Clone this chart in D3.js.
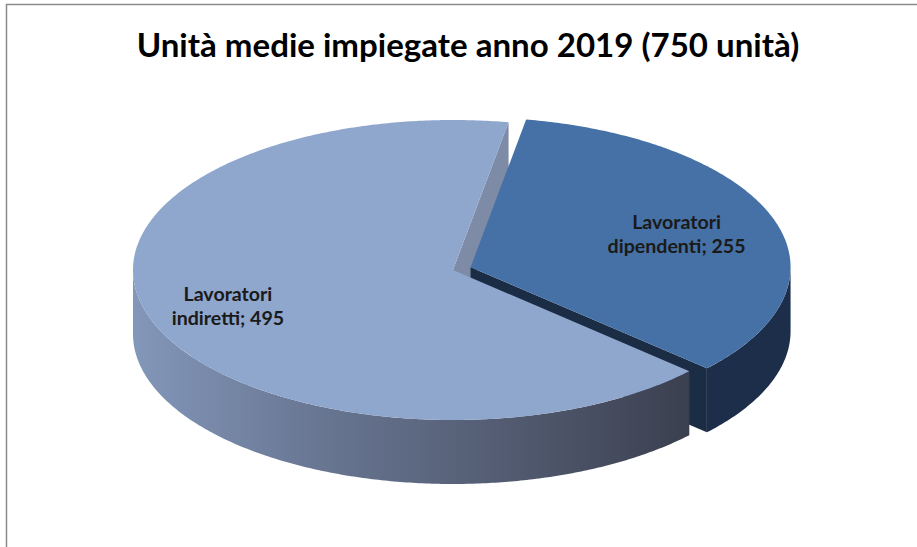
<!DOCTYPE html>
<html>
<head>
<meta charset="utf-8">
<script src="https://cdn.jsdelivr.net/npm/d3@7"></script>
<style>
  html, body { margin: 0; padding: 0; background: #ffffff; }
  svg { display: block; }
</style>
</head>
<body>
<svg id="chart" width="917" height="547"></svg>
<script>
// ---- data ----
const title = "Unità medie impiegate anno 2019 (750 unità)";
const categories = ["Lavoratori dipendenti", "Lavoratori indiretti"];
const values = [255, 495];

// ---- styles / layout ----
const topColors = ["#4671a6", "#8fa6cd"];
const faceColors = ["#1b2c45", "#7d8ba7"];
const wallColors = ["#1c2e49", null]; // second wall uses a gradient
const explode = [0.058, 0];
const labelR = [0.68, 0.743];

const W = 917, H = 547;
const cx = 453, cy = 270, rx = 320, ry = 150, depth = 64;
const startAngle = 10 * Math.PI / 180;
const fontFamily = "Lato, 'Open Sans', sans-serif";

const svg = d3.select("#chart");

// frame lines
svg.append("line").attr("x1", 6).attr("x2", W).attr("y1", 4.5).attr("y2", 4.5)
  .attr("stroke", "#8a8a8a").attr("stroke-width", 1.5);
svg.append("line").attr("x1", 6.5).attr("x2", 6.5).attr("y1", 4).attr("y2", H)
  .attr("stroke", "#8a8a8a").attr("stroke-width", 1.5);

// gradient for the front wall of the large slice
const defs = svg.append("defs");
const grad = defs.append("linearGradient").attr("id", "wallGrad")
  .attr("x1", 0).attr("x2", 1).attr("y1", 0).attr("y2", 0);
[[0, "#8397ba"], [0.3, "#6b7996"], [0.66, "#535c72"], [1, "#3b404f"]].forEach(([o, c]) =>
  grad.append("stop").attr("offset", o).attr("stop-color", c));

const pie = d3.pie().sort(null).value(d => d)
  .startAngle(startAngle).endAngle(startAngle + 2 * Math.PI);
const arcs = pie(values).map((a, i) => {
  const mid = (a.startAngle + a.endAngle) / 2;
  return {
    ...a, i, mid,
    off: [explode[i] * rx * Math.sin(mid), -explode[i] * ry * Math.cos(mid)]
  };
});

// projected point on the tilted disc
function pt(d, ang, r, z) {
  return [cx + d.off[0] + r * rx * Math.sin(ang), cy + d.off[1] - r * ry * Math.cos(ang) + z];
}
const line = d3.line();
function rim(d, a0, a1, z) {
  const n = Math.max(2, Math.ceil(Math.abs(a1 - a0) / 0.01));
  return d3.range(n + 1).map(k => pt(d, a0 + (a1 - a0) * k / n, 1, z));
}

// side pieces: outer walls and cut faces that face the viewer
const sides = [];
arcs.forEach(d => {
  const lo = Math.max(d.startAngle, Math.PI / 2), hi = Math.min(d.endAngle, 1.5 * Math.PI);
  if (hi > lo) {
    const pts = rim(d, lo, hi, 0).concat(rim(d, hi, lo, depth));
    const m = pt(d, (lo + hi) / 2, 1, depth / 2);
    sides.push({ d, kind: "wall", pts, key: m[1] });
  }
  [[d.startAngle, Math.sin(d.startAngle) < 0], [d.endAngle, Math.sin(d.endAngle) > 0]].forEach(([a, vis]) => {
    if (!vis) return;
    const pts = [pt(d, a, 0, 0), pt(d, a, 1, 0), pt(d, a, 1, depth), pt(d, a, 0, depth)];
    const m = pt(d, a, 0.5, depth / 2);
    sides.push({ d, kind: "face", pts, key: m[1] });
  });
});
sides.sort((a, b) => a.key - b.key);

const g = svg.append("g");
sides.forEach(s => {
  g.append("path")
    .attr("d", line(s.pts) + "Z")
    .attr("fill", s.kind === "face" ? faceColors[s.d.i]
      : (wallColors[s.d.i] || "url(#wallGrad)"));
});

// top faces
arcs.forEach(d => {
  const pts = [pt(d, 0, 0, 0)].concat(rim(d, d.startAngle, d.endAngle, 0));
  g.append("path").attr("d", line(pts) + "Z").attr("fill", topColors[d.i]);
});

// data labels: size the font so the widest line spans ~138px
const probe = svg.append("text").attr("font-family", fontFamily)
  .attr("font-weight", "bold").attr("font-size", 20).text("dipendenti; 255");
const labelSize = 20 * 138 / probe.node().getComputedTextLength();
probe.remove();

arcs.forEach(d => {
  const name = categories[d.i];
  const sp = name.indexOf(" ");
  const lines = [name.slice(0, sp), name.slice(sp + 1) + "; " + d.data];
  const p = pt(d, d.mid, labelR[d.i], 0);
  const t = svg.append("text")
    .attr("x", p[0]).attr("y", p[1] - 5)
    .attr("text-anchor", "middle")
    .attr("font-family", fontFamily)
    .attr("font-weight", "bold").attr("font-size", labelSize)
    .attr("fill", "#1a1a1a");
  lines.forEach((l, k) => t.append("tspan").attr("x", p[0]).attr("dy", k === 0 ? 0 : 24).text(l));
});

// title, fitted to its width
const tt = svg.append("text")
  .attr("x", 468).attr("y", 57)
  .attr("text-anchor", "middle")
  .attr("font-family", fontFamily)
  .attr("font-weight", "bold").attr("font-size", 30)
  .attr("fill", "#000")
  .text(title);
const tw = tt.node().getComputedTextLength();
tt.attr("font-size", 30 * 663 / tw);
</script>
</body>
</html>
